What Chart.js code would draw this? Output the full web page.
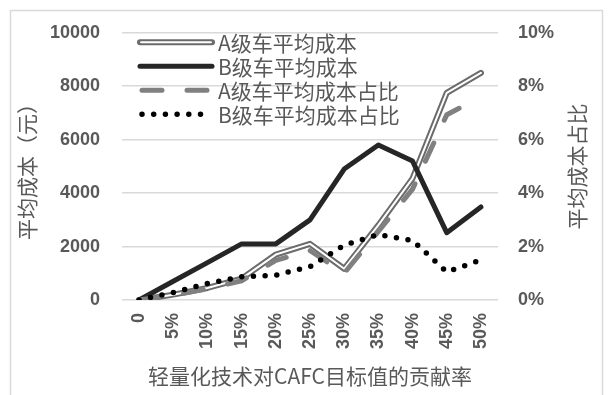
<!DOCTYPE html>
<html>
<head>
<meta charset="utf-8">
<script src="https://cdn.jsdelivr.net/npm/chart.js@4.4.1/dist/chart.umd.min.js"></script>
<style>
  html, body { margin: 0; padding: 0; background: #ffffff; }
  #wrap { width: 610px; height: 395px; position: relative; }
</style>
</head>
<body>
<div id="wrap"><canvas id="chart" width="610" height="395"></canvas></div>
<script>
// Contribution of lightweighting to the CAFC target
const categories = ['0', '5%', '10%', '15%', '20%', '25%', '30%', '35%', '40%', '45%', '50%'];

// Average cost per vehicle (yuan)
const costA = [0, 200, 450, 800, 1700, 2100, 1170, 2800, 4550, 7750, 8500];
const costB = [0, 700, 1400, 2100, 2100, 3000, 4900, 5800, 5200, 2520, 3480];

// Average cost as share of vehicle price (%)
const shareA = [0, 0.18, 0.42, 0.72, 1.48, 1.85, 1.0, 2.57, 4.15, 6.93, 7.6];
const shareB = [0, 0.28, 0.62, 0.87, 0.93, 1.25, 2.05, 2.45, 2.23, 1.05, 1.5];

const seriesNames = ['A级车平均成本', 'B级车平均成本', 'A级车平均成本占比', 'B级车平均成本占比'];
const leftTicks = [0, 2000, 4000, 6000, 8000, 10000];
const rightTicks = [0, 2, 4, 6, 8, 10];

const axisTitleX = '轻量化技术对CAFC目标值的贡献率';
const axisTitleLeft = '平均成本（元）';
const axisTitleRight = '平均成本占比';

const TEXT = '#595959';
const CJK = '"Noto Sans CJK SC", "Noto Sans", sans-serif';
const NUM = '"Liberation Sans", Arial, sans-serif';
const tickFont = { family: NUM, size: 18, weight: 700 };
const titleFont = { family: CJK, size: 21 };

const common = { pointRadius: 0, pointHoverRadius: 0, tension: 0, fill: false, borderJoinStyle: 'round' };

const datasets = [
  Object.assign({ label: seriesNames[0], data: costA, yAxisID: 'y', borderColor: '#6b6b6b', borderWidth: 6,
                  borderCapStyle: 'round', order: 6, inLegend: true, innerColor: '#ffffff', innerWidth: 2 }, common),
  Object.assign({ label: seriesNames[1], data: costB, yAxisID: 'y', borderColor: '#262626', borderWidth: 5,
                  borderCapStyle: 'round', order: 4, inLegend: true }, common),
  Object.assign({ label: seriesNames[2], data: shareA, yAxisID: 'y1', borderColor: '#808080', borderWidth: 5,
                  borderDash: [20, 25], borderCapStyle: 'round', order: 3, inLegend: true }, common),
  Object.assign({ label: seriesNames[3], data: shareB, yAxisID: 'y1', borderColor: '#000000', borderWidth: 5.5,
                  borderDash: [0, 11.7], borderCapStyle: 'round', order: 2, inLegend: true }, common),
  // white core of the double line for series A cost
  Object.assign({ label: '', data: costA, yAxisID: 'y', borderColor: '#ffffff', borderWidth: 2,
                  borderCapStyle: 'round', order: 5, inLegend: false }, common)
];

// Frame, right axis title and an inset legend at the top-left of the plot
const decorations = {
  id: 'decorations',
  afterDraw(chart) {
    const ctx = chart.ctx;
    const area = chart.chartArea;
    ctx.save();
    ctx.strokeStyle = '#d9d9d9';
    ctx.lineWidth = 1.5;
    ctx.strokeRect(10.5, 10.5, 592, 400);

    ctx.fillStyle = TEXT;
    ctx.font = '21px ' + CJK;
    ctx.textAlign = 'center';
    ctx.textBaseline = 'middle';
    ctx.translate(577, (area.top + area.bottom) / 2);
    ctx.rotate(-Math.PI / 2);
    ctx.fillText(axisTitleRight, 0, 0);
    ctx.restore();

    const items = chart.data.datasets.filter(d => d.inLegend);
    const x0 = area.left + 18, x1 = area.left + 90;
    items.forEach((ds, i) => {
      const y = area.top + 9.5 + i * 24;
      ctx.save();
      ctx.beginPath();
      ctx.lineCap = ds.borderCapStyle || 'butt';
      ctx.setLineDash(ds.borderDash || []);
      ctx.strokeStyle = ds.borderColor;
      ctx.lineWidth = ds.borderWidth;
      ctx.moveTo(x0 + (ds.borderDash ? 2 : 0), y);
      ctx.lineTo(x1, y);
      ctx.stroke();
      if (ds.innerColor) {
        ctx.beginPath();
        ctx.setLineDash([]);
        ctx.strokeStyle = ds.innerColor;
        ctx.lineWidth = ds.innerWidth;
        ctx.moveTo(x0 + 1, y);
        ctx.lineTo(x1 - 1, y);
        ctx.stroke();
      }
      ctx.fillStyle = TEXT;
      ctx.font = '21px ' + CJK;
      ctx.textAlign = 'left';
      ctx.textBaseline = 'middle';
      ctx.fillText(ds.label, x1 + 6, y + 1);
      ctx.restore();
    });
  }
};

new Chart(document.getElementById('chart'), {
  type: 'line',
  data: { labels: categories, datasets },
  options: {
    responsive: false,
    animation: false,
    devicePixelRatio: 1,
    layout: { padding: { top: 30, left: 0, right: 0, bottom: 0 } },
    plugins: {
      legend: { display: false },
      tooltip: { enabled: false }
    },
    scales: {
      x: {
        type: 'category',
        offset: true,
        grid: { display: false, drawTicks: false, offset: true },
        border: { display: false },
        ticks: {
          color: TEXT, font: tickFont,
          minRotation: 90, maxRotation: 90, autoSkip: false, padding: 13
        },
        title: {
          display: true, text: axisTitleX, color: TEXT,
          font: titleFont, padding: { top: 0, bottom: 6 }
        },
        afterFit: s => { s.height = 95; }
      },
      y: {
        position: 'left',
        min: 0, max: 10000,
        afterBuildTicks: s => { s.ticks = leftTicks.map(v => ({ value: v })); },
        grid: { color: '#d9d9d9', lineWidth: 1.5, drawTicks: false },
        border: { display: false },
        ticks: {
          color: TEXT, font: tickFont, padding: 22,
          callback: v => String(v)
        },
        title: {
          display: true, text: axisTitleLeft, color: TEXT,
          font: titleFont, padding: { top: 14, bottom: 0 }
        },
        afterFit: s => { s.width = 122; }
      },
      y1: {
        position: 'right',
        min: 0, max: 10,
        afterBuildTicks: s => { s.ticks = rightTicks.map(v => ({ value: v })); },
        grid: { display: false, drawTicks: false },
        border: { display: false },
        ticks: {
          color: TEXT, font: tickFont, padding: 20,
          callback: v => v + '%'
        },
        afterFit: s => { s.width = 112; }
      }
    }
  },
  plugins: [decorations]
});
</script>
</body>
</html>
